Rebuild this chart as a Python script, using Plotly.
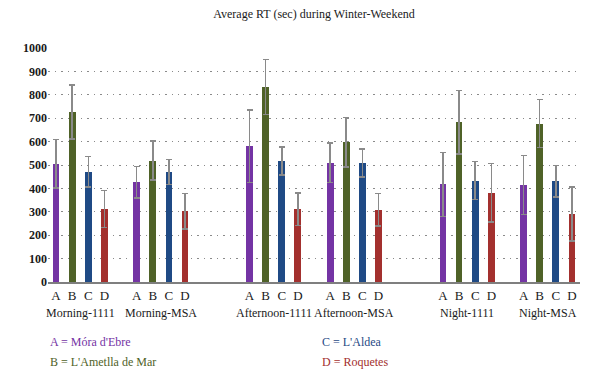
import plotly.graph_objects as go

groups = ["Morning-1111", "Morning-MSA", "Afternoon-1111", "Afternoon-MSA", "Night-1111", "Night-MSA"]
locations = ["A", "B", "C", "D"]
legend_names = ["A = Móra d'Ebre", "B = L'Ametlla de Mar", "C = L'Aldea", "D = Roquetes"]

# mean RT per location, one value per group
vals_A = [506, 426, 581, 509, 417, 414]
vals_B = [726, 519, 833, 597, 683, 677]
vals_C = [471, 470, 517, 509, 433, 430]
vals_D = [311, 303, 311, 309, 381, 291]

err_A = [104, 68, 155, 84, 136, 126]
err_B = [115, 84, 118, 106, 136, 103]
err_C = [66, 54, 59, 60, 81, 67]
err_D = [79, 76, 70, 70, 125, 115]

colors = ["#7434A4", "#4F6228", "#1F4A85", "#A3302E"]

values = [vals_A, vals_B, vals_C, vals_D]
errors = [err_A, err_B, err_C, err_D]

# slot layout: 4 bars per group, 1 empty slot inside a time pair, 3 between times
starts = []
pos = 0
for gi in range(len(groups)):
    starts.append(pos)
    pos += 4 + (1 if gi % 2 == 0 else 3)

fig = go.Figure()
for li in range(4):
    xs = [s + li for s in starts]
    fig.add_trace(go.Bar(
        x=xs, y=values[li], width=0.42,
        marker=dict(color=colors[li], line=dict(width=0)),
        error_y=dict(type="data", array=errors[li], symmetric=True,
                     color="#8a8a8a", thickness=1.5, width=3),
        showlegend=False, name=locations[li]))

tickvals = [s + li for s in starts for li in range(4)]
ticktext = [locations[li] for s in starts for li in range(4)]

serif = "Liberation Serif"
annotations = []
for gi, g in enumerate(groups):
    annotations.append(dict(x=starts[gi] + 1.5, y=0, xref="x", yref="paper",
                            yshift=-31, text=g, showarrow=False,
                            font=dict(family=serif, size=12, color="#1a1a1a"),
                            yanchor="middle"))
leg_pos = [(0.0, -0.256), (0.0, -0.342), (0.511, -0.256), (0.511, -0.342)]
for li in range(4):
    annotations.append(dict(x=leg_pos[li][0], y=leg_pos[li][1], xref="paper", yref="paper",
                            text=legend_names[li], showarrow=False, xanchor="left",
                            yanchor="middle",
                            font=dict(family=serif, size=12, color=colors[li])))

fig.update_layout(
    width=600, height=378,
    margin=dict(l=48, r=20, t=48, b=96),
    paper_bgcolor="white", plot_bgcolor="white",
    title=dict(text="Average RT (sec) during Winter-Weekend", x=0.5, xanchor="center",
               xref="paper", y=1 - 14 / 378, yanchor="middle", yref="container",
               font=dict(family=serif, size=12, color="#1a1a1a")),
    bargap=0, barmode="overlay",
    xaxis=dict(range=[-0.5, 32.5], tickvals=tickvals, ticktext=ticktext,
               showgrid=False, zeroline=False, showline=True, linecolor="#7f7f7f",
               linewidth=2, ticks="", tickfont=dict(family=serif, size=13, color="#1a1a1a")),
    yaxis=dict(range=[0, 1000], dtick=100, showgrid=True, gridcolor="#8a8a8a",
               griddash="1.5px,5px", gridwidth=1, zeroline=False, showline=False, ticks="",
               tickfont=dict(family=serif, size=12, color="#1a1a1a", weight="bold")),
    annotations=annotations,
)
fig.write_html("out.html", config={"displayModeBar": False},
               post_script="document.body.style.margin='0';")
